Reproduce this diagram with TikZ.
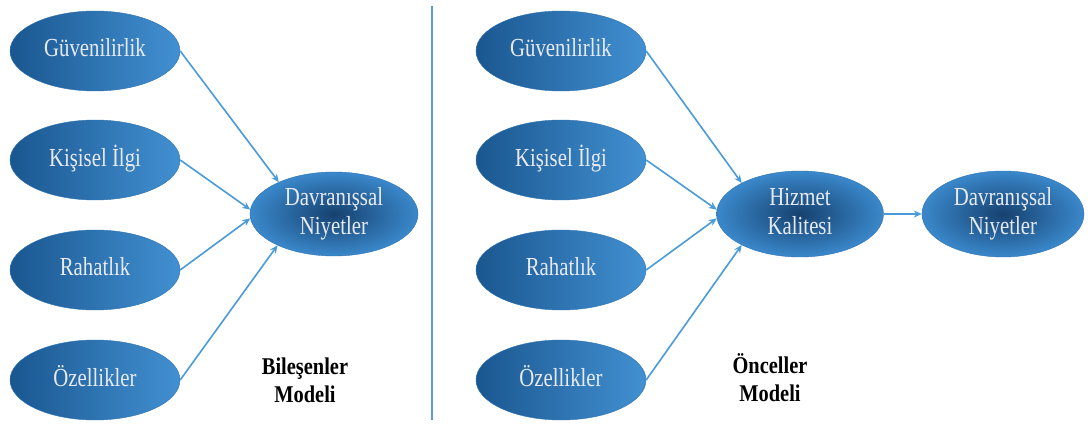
\documentclass[tikz,border=0pt]{standalone}
\usepackage{fontspec}
\usepackage{graphicx}
\setmainfont{Liberation Serif}
\usetikzlibrary{shapes.geometric,arrows.meta}

\definecolor{edgeblue}{HTML}{4A9BD9}
\definecolor{rule}{HTML}{5B9BD5}
\definecolor{lightdark}{HTML}{1A5790}
\definecolor{lightbright}{HTML}{4290D2}
\definecolor{coreinner}{HTML}{16416F}
\definecolor{coreouter}{HTML}{3A88CB}
\definecolor{rim}{HTML}{2D72B2}
\definecolor{labeltext}{HTML}{E8EAF3}

% condensed serif lettering for the bubbles and captions
\newcommand\bubbletext[1]{\scalebox{0.8}[1]{\begin{tabular}{@{}c@{}}#1\end{tabular}}}
\newcommand\captiontext[1]{\scalebox{0.85}[1]{\begin{tabular}{@{}c@{}}#1\end{tabular}}}

\tikzset{
  bubble/.style={ellipse, inner sep=0pt, draw=rim, line width=0.4pt,
    text=labeltext, font=\fontsize{26}{29}\selectfont},
  factor/.style={bubble, minimum width=170pt, minimum height=80pt,
    left color=lightdark, right color=lightbright},
  outcome/.style={bubble, minimum width=167pt, minimum height=86pt,
    inner color=coreinner, outer color=coreouter},
  link/.style={draw=edgeblue, line width=1.6pt, -{Stealth[length=8pt,width=7pt]}},
  caption/.style={font=\fontsize{24}{28}\selectfont\bfseries, text=black}
}

\begin{document}
\begin{tikzpicture}[x=1pt, y=-1pt]
  \fill[white] (0,0) rectangle (1088,425);
  \useasboundingbox (0,0) rectangle (1088,425);

  % separator between the two models
  \coordinate (sepTop) at (432,6);
  \coordinate (sepBot) at (432,420);
  \draw[rule, line width=2.5pt] (sepTop) -- (sepBot);

  % components model
  \node[factor] (gL) at (95,51)  {\bubbletext{Güvenilirlik}};
  \node[factor] (kL) at (95,160) {\bubbletext{Kişisel İlgi}};
  \node[factor] (rL) at (95,270) {\bubbletext{Rahatlık}};
  \node[factor] (oL) at (95,380) {\bubbletext{Özellikler}};
  \node[outcome, minimum width=168pt, minimum height=84pt] (dL) at (334,214)
    {\bubbletext{Davranışsal\\Niyetler}};

  \draw[link] (gL.east) -- (dL.150);
  \draw[link] (kL.east) -- (dL.177);
  \draw[link] (rL.east) -- (dL.183);
  \draw[link] (oL.east) -- (dL.209);

  \node[caption] (capL) at (305,383) {\captiontext{Bileşenler\\Modeli}};

  % antecedents model
  \node[factor] (gR) at (561,51)  {\bubbletext{Güvenilirlik}};
  \node[factor] (kR) at (561,160) {\bubbletext{Kişisel İlgi}};
  \node[factor] (rR) at (561,270) {\bubbletext{Rahatlık}};
  \node[factor] (oR) at (561,380) {\bubbletext{Özellikler}};
  \node[outcome] (hK) at (800,214) {\bubbletext{Hizmet\\Kalitesi}};
  \node[outcome, minimum width=162pt] (dR) at (1003,214)
    {\bubbletext{Davranışsal\\Niyetler}};

  \draw[link] (gR.east) -- (hK.152);
  \draw[link] (kR.east) -- (hK.177);
  \draw[link] (rR.east) -- (hK.183);
  \draw[link] (oR.east) -- (hK.208);
  \draw[link] (hK.east) -- (dR.west);

  \node[caption] (capR) at (770,382) {\captiontext{Önceller\\Modeli}};
\end{tikzpicture}
\end{document}
